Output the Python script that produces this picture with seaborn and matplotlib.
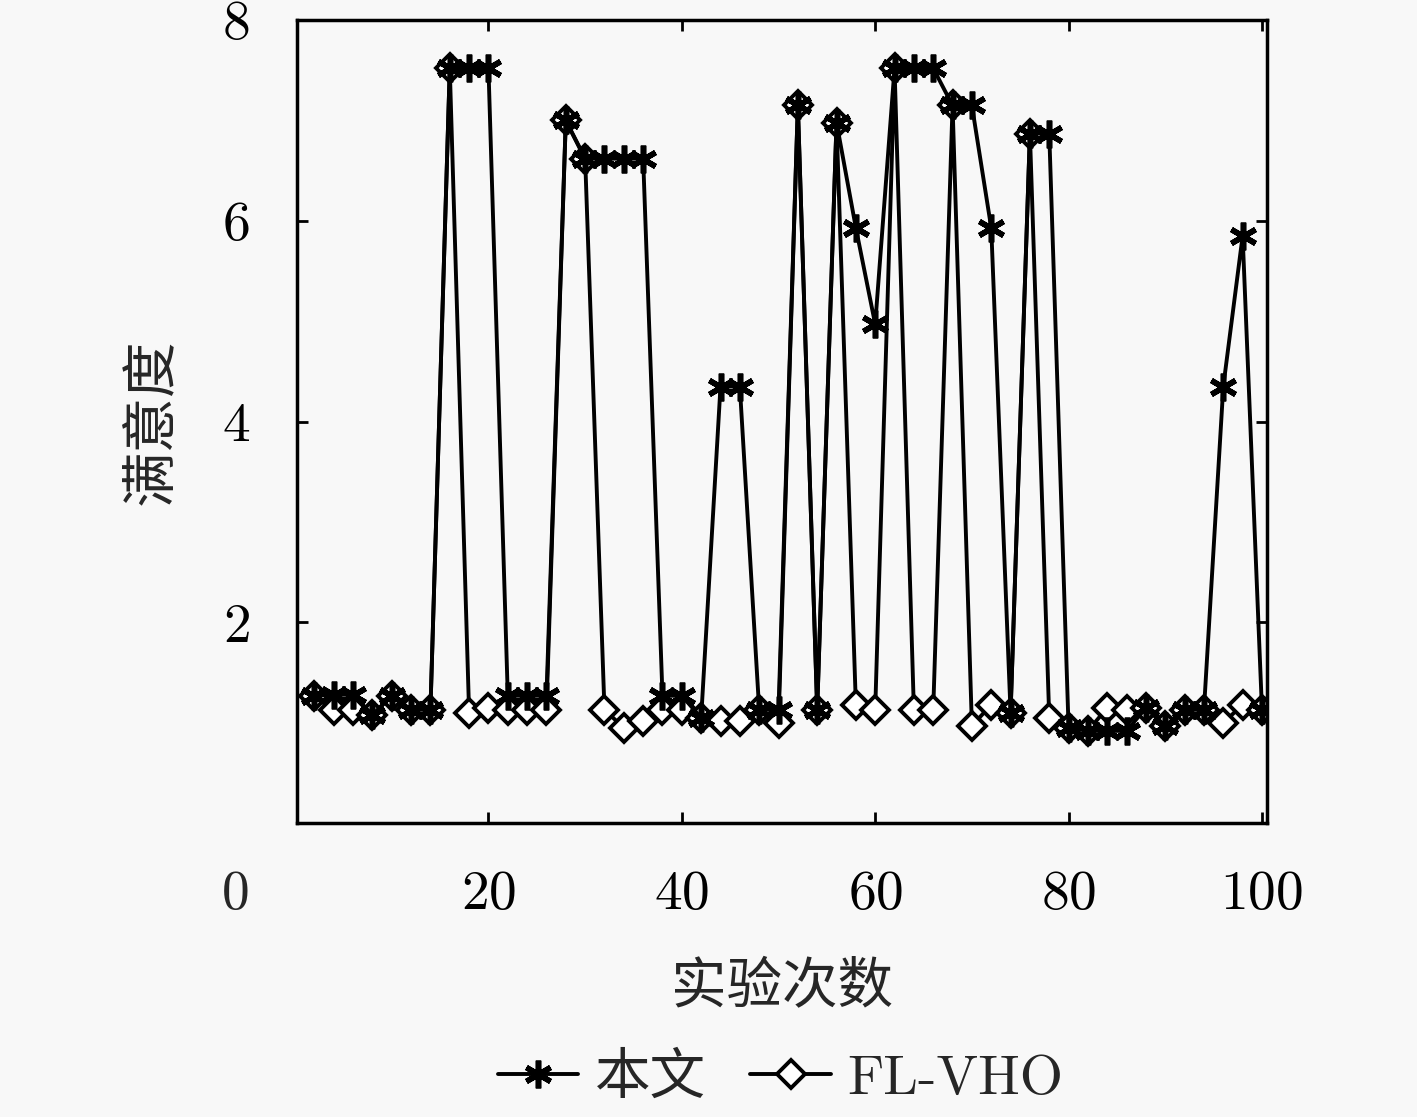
import matplotlib
matplotlib.use("Agg")
import matplotlib.pyplot as plt
import seaborn as sns
import pandas as pd

# trial index and satisfaction values
trials = [2, 4, 6, 8, 10, 12, 14, 16, 18, 20,
          22, 24, 26, 28, 30, 32, 34, 36, 38, 40,
          42, 44, 46, 48, 50, 52, 54, 56, 58, 60,
          62, 64, 66, 68, 70, 72, 74, 76, 78, 80,
          82, 84, 86, 88, 90, 92, 94, 96, 98, 100]
ours = [1.27, 1.28, 1.28, 1.08, 1.27, 1.13, 1.13, 7.52, 7.52, 7.52,
        1.27, 1.27, 1.27, 7.00, 6.62, 6.62, 6.62, 6.62, 1.27, 1.27,
        1.05, 4.35, 4.35, 1.13, 1.13, 7.15, 1.13, 6.98, 5.93, 4.97,
        7.52, 7.52, 7.52, 7.15, 7.15, 5.93, 1.10, 6.87, 6.87, 0.95,
        0.92, 0.92, 0.92, 1.15, 0.97, 1.13, 1.13, 4.35, 5.85, 1.13]
flvho = [1.27, 1.13, 1.13, 1.08, 1.27, 1.13, 1.13, 7.52, 1.10, 1.15,
         1.13, 1.13, 1.13, 7.00, 6.62, 1.13, 0.95, 1.02, 1.13, 1.13,
         1.05, 1.02, 1.02, 1.13, 1.00, 7.15, 1.13, 6.98, 1.18, 1.13,
         7.52, 1.13, 1.13, 7.15, 0.97, 1.18, 1.10, 6.87, 1.05, 0.95,
         0.92, 1.15, 1.13, 1.15, 0.97, 1.13, 1.13, 1.00, 1.18, 1.13]
names = ["本文", "FL-VHO"]
xticks = [20, 40, 60, 80, 100]
yticks = [2, 4, 6, 8]

df = pd.DataFrame({"x": trials, names[0]: ours, names[1]: flvho})

sns.set_theme(style="ticks")
plt.rcParams["font.family"] = ["cmr10", "Noto Sans CJK SC", "DejaVu Sans"]
plt.rcParams["axes.unicode_minus"] = False
plt.rcParams["axes.formatter.use_mathtext"] = True

bg = "#f8f8f8"
fig = plt.figure(figsize=(14.17, 11.17), dpi=100, facecolor=bg)
ax = fig.add_axes([0.2096, 0.263, 0.6844, 0.719])
ax.set_facecolor(bg)

sns.lineplot(data=df, x="x", y=names[1], ax=ax, color="black", linewidth=2.8,
             marker="D", markersize=14, markerfacecolor="white",
             markeredgecolor="black", markeredgewidth=2.8, label=names[1],
             zorder=2)
sns.lineplot(data=df, x="x", y=names[0], ax=ax, color="black", linewidth=2.8,
             marker=(6, 2, 0), markersize=20, markeredgewidth=4,
             markeredgecolor="black", label=names[0], zorder=3)

ax.set_xlim(0.2, 100.5)
ax.set_ylim(0, 8)
ax.set_xticks(xticks)
ax.set_yticks(yticks)
ax.tick_params(direction="in", length=8, width=2, top=True, right=True,
               labelsize=40, pad=34, colors="black")
for s in ax.spines.values():
    s.set_linewidth(2.5)
    s.set_color("black")

# shared corner label "0"
ax.annotate("0", xy=(0, 0), xycoords="axes fraction", xytext=(-34, -34),
            textcoords="offset points", ha="right", va="top", fontsize=40)

ax.set_xlabel("实验次数", fontsize=40)
ax.set_ylabel("满意度", fontsize=40)
ax.xaxis.set_label_coords(0.5, -0.173)
ax.yaxis.set_label_coords(-0.123, 0.5)

h, l = ax.get_legend_handles_labels()
ax.get_legend().remove()
order = [l.index(names[0]), l.index(names[1])]
fig.legend([h[i] for i in order], [l[i] for i in order], loc="center",
           bbox_to_anchor=(0.551, 0.034), ncol=2, frameon=False, fontsize=40,
           handlelength=1.45, handletextpad=0.3, columnspacing=0.8)

fig.savefig("out.png", dpi=100, facecolor=bg)
